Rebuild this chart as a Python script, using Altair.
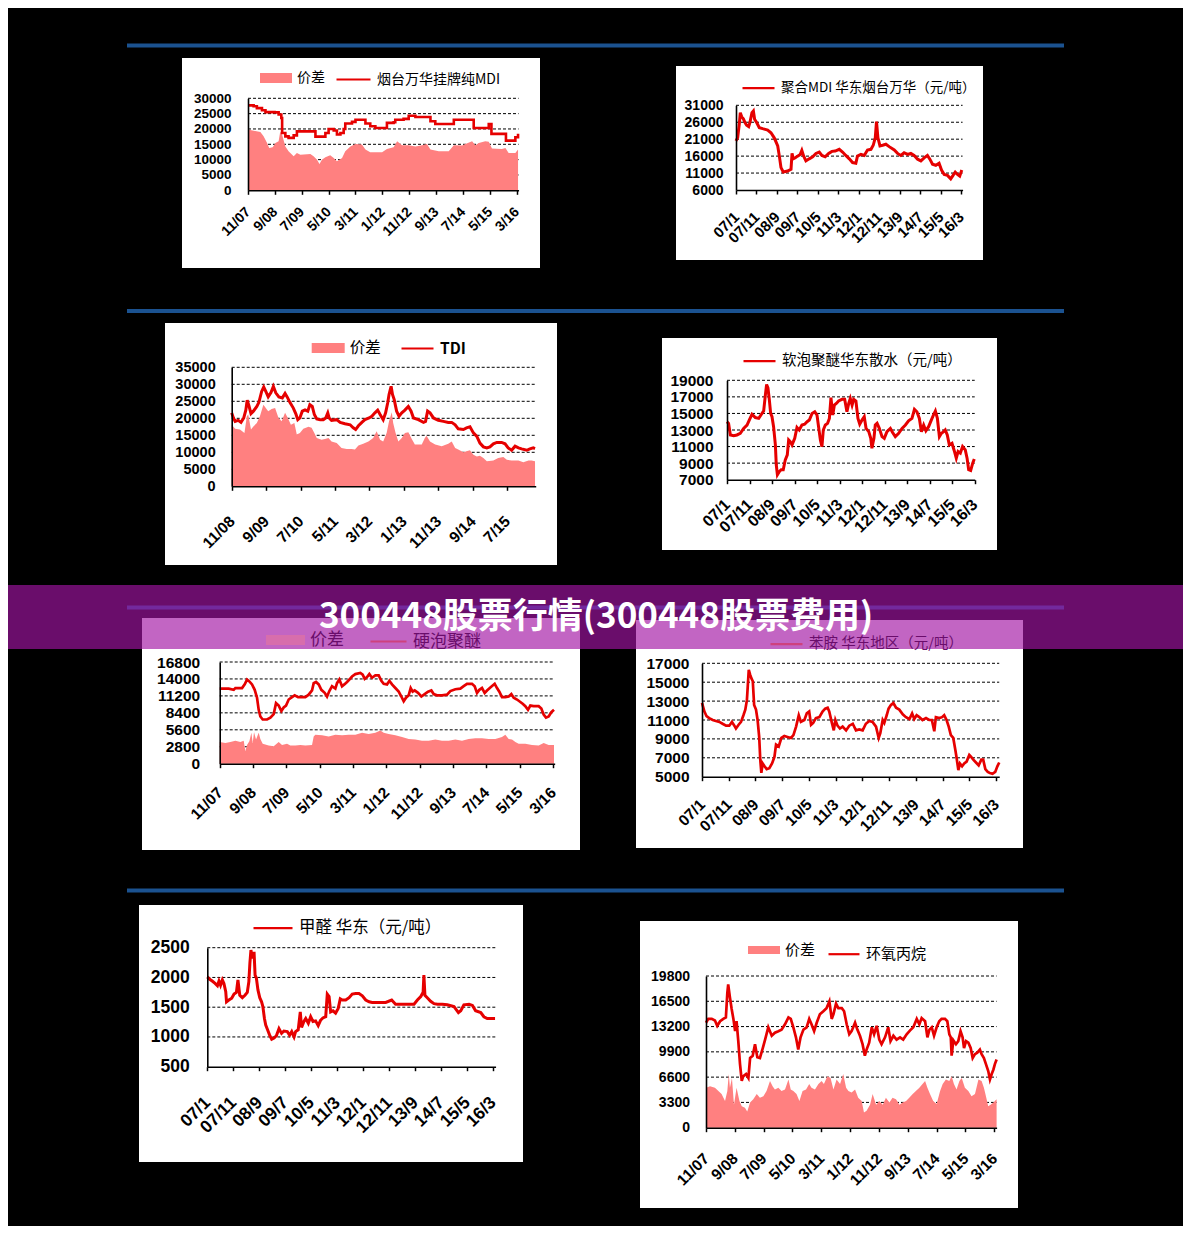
import json
import altair as alt
import pandas as pd

# ---------------- canvas ----------------
W, H = 1175, 1218      # chart size (page is 1191x1234 with 8px margin)
M = 8                  # reference pixel -> chart pixel shift

BLUE = "#1b5290"
AREA_C = "#ff8080"
LINE_C = "#e60000"
BANNER_C = "#a214a3"
NUM_FONT = "Liberation Sans"
CJK_FONT = "Noto Sans CJK SC"

TITLE = "300448股票行情(300448股票费用)"
SPREAD = "价差"

# ---------------- data ----------------
LAB_07_11 = ["11/07", "9/08", "7/09", "5/10", "3/11", "1/12", "11/12", "9/13", "7/14", "5/15", "3/16"]
LAB_07_1 = ["07/1", "07/11", "08/9", "09/7", "10/5", "11/3", "12/1", "12/11", "13/9", "14/7", "15/5", "16/3"]
LAB_08_11 = ["11/08", "9/09", "7/10", "5/11", "3/12", "1/13", "11/13", "9/14", "7/15"]

# Panel A: 烟台万华挂牌纯MDI  (x = months since first label)
A_NAME = "烟台万华挂牌纯MDI"
A_Y = [0, 5000, 10000, 15000, 20000, 25000, 30000]
A_LINE_M = [0, 2.1, 3.3, 5.2, 6.5, 9.9, 11.4, 12.4, 12.7, 13.9, 15.1, 17.0, 18.2, 24.4, 25.1, 27.5, 28.8, 30.0, 31.9, 33.1,
            34.4, 35.6, 36.2, 38.7, 40.0, 42.4, 43.7, 45.5, 47.4, 51.1, 51.7, 54.2, 54.8, 57.9, 59.8, 62.3, 66.6, 67.9, 69.7, 74.7,
            76.6, 83.4, 84.0, 87.1, 89.6, 90.6, 95.2, 96.0, 98.9, 99.5, 100.5]
A_LINE_V = [27700, 27400, 26800, 26100, 25500, 25400, 24700, 23600, 18700, 17600, 17100, 17900, 19200, 19200, 17500, 17500, 18700, 20000, 19500, 18200,
            18700, 20000, 21800, 22300, 23000, 23000, 21800, 20900, 20300, 20300, 22000, 22200, 23000, 23300, 24300, 23900, 23900, 22500, 21600, 21600,
            23000, 23000, 20300, 20300, 21600, 18400, 18400, 16200, 16200, 17300, 18400]
A_AREA_M = [0, 4.6, 5.8, 7.1, 7.9, 9.2, 10.2, 11.4, 12.0, 12.7, 13.9, 15.1, 17.0, 18.2, 19.5, 23.2, 24.4, 25.7, 26.6, 27.5,
            28.8, 30.6, 31.9, 33.1, 35.0, 36.2, 38.1, 40.0, 42.4, 43.7, 45.5, 49.9, 51.7, 54.2, 55.5, 57.3, 59.8, 62.3, 64.8, 66.6,
            67.9, 71.0, 74.7, 76.6, 79.7, 80.9, 83.4, 84.6, 85.9, 88.3, 89.6, 90.8, 94.5, 95.8, 97.0, 99.5, 100.5]
A_AREA_V = [19800, 19000, 17600, 15400, 13800, 14000, 15400, 16000, 19200, 18100, 14300, 12700, 11100, 12200, 11600, 11800, 11100, 10000, 8600, 10000,
            10800, 11400, 10500, 9500, 10500, 12700, 14300, 15100, 14900, 13300, 12400, 12400, 13500, 14000, 16000, 14700, 14700, 14300, 14700, 15100,
            13300, 12700, 12700, 14700, 14600, 15100, 16000, 14700, 15400, 16000, 15800, 13600, 13500, 13800, 12200, 12200, 13300]

# Panel B: 聚合MDI 华东烟台万华
B_NAME = "聚合MDI 华东烟台万华（元/吨）"
B_Y = [6000, 11000, 16000, 21000, 26000, 31000]
B_LINE_M = [0, 0.8, 1.6, 2.1, 2.8, 3.6, 4.4, 5.2, 6.2, 6.8, 7.8, 8.5, 9.1, 10.1, 11.4, 13.0, 15.5, 17.1, 18.7, 20.4,
            21.2, 22.0, 23.1, 25.2, 26.9, 27.4, 28.0, 29.0, 30.1, 31.4, 32.2, 33.1, 34.2, 35.8, 37.5, 39.1, 40.7, 42.0, 43.6, 45.3,
            46.9, 48.5, 50.5, 52.1, 53.7, 55.4, 57.0, 58.6, 59.4, 61.1, 62.7, 64.3, 66.0, 67.1, 68.1, 68.7, 69.4, 70.4, 71.7, 73.3,
            74.9, 77.4, 79.0, 80.6, 82.2, 83.9, 85.5, 87.1, 88.8, 90.4, 92.0, 93.6, 94.8, 96.1, 97.7, 99.3, 100.5, 101.8, 103.4, 105.0,
            105.9, 107.2, 108.3, 109.4, 110.4]
B_LINE_V = [20500, 21400, 25400, 28800, 27600, 27000, 25900, 25100, 24700, 25900, 28800, 29300, 26900, 25900, 24400, 24100, 23700, 22900, 21400, 19000,
            16000, 12600, 11300, 11600, 12100, 16800, 15200, 15500, 16000, 16500, 17700, 16000, 14600, 15200, 15800, 16800, 17200, 16200, 15800, 16800,
            17400, 17500, 18000, 17200, 16200, 15200, 14100, 13900, 16000, 16500, 16200, 17800, 18000, 19200, 21400, 26200, 21400, 19000, 19200, 19500,
            18800, 17800, 16800, 16200, 17000, 16500, 16800, 16200, 15100, 14600, 15500, 16200, 15100, 13600, 13300, 13900, 11900, 10600, 10300, 9300,
            10100, 11300, 10600, 10100, 11900]

# Panel C: TDI
C_NAME = "TDI"
C_Y = [0, 5000, 10000, 15000, 20000, 25000, 30000, 35000]
C_LINE_M = [0, 0.5, 1.0, 1.9, 2.7, 3.5, 4.1, 4.5, 5.0, 5.6, 6.3, 7.3, 7.9, 8.7, 9.3, 9.9, 10.6, 11.4, 12.1, 12.8,
            13.7, 14.7, 15.5, 16.1, 16.9, 17.9, 18.6, 19.2, 19.8, 20.5, 21.3, 22.1, 22.7, 23.4, 24.0, 24.7, 25.7, 26.6, 27.3, 27.9,
            28.3, 29.0, 30.5, 31.5, 32.9, 34.4, 35.3, 36.0, 36.8, 37.8, 38.7, 39.9, 40.7, 41.6, 42.4, 43.1, 44.0, 44.7, 45.3, 45.7,
            46.3, 46.7, 47.2, 47.9, 48.6, 49.4, 50.3, 51.3, 52.1, 52.8, 54.2, 55.7, 56.3, 56.9, 57.6, 58.6, 60.0, 61.5, 62.9, 63.9,
            64.9, 65.8, 67.3, 68.2, 69.2, 70.2, 71.2, 72.1, 73.1, 74.1, 75.0, 76.0, 77.0, 78.4, 79.4, 80.3, 81.3, 82.3, 83.3, 84.2,
            85.7, 86.6, 87.6, 88.1]
C_LINE_V = [21600, 20100, 19100, 19400, 18800, 20100, 22400, 25300, 23700, 21400, 22100, 23500, 24700, 27900, 29200, 27900, 26300, 27600, 29400, 27500,
            26300, 26000, 27300, 26300, 24700, 23000, 21400, 19600, 20100, 22100, 22500, 22100, 24000, 23500, 21100, 19800, 19600, 19600, 20100, 21600,
            20100, 19400, 19600, 18800, 18400, 18100, 17200, 16700, 17800, 18800, 19600, 20100, 20600, 21600, 22400, 21100, 19600, 21600, 24500, 27000,
            29400, 27000, 25500, 22100, 20600, 21600, 22400, 23500, 22100, 20100, 19600, 18800, 19100, 22100, 21600, 20100, 19400, 19100, 18800, 18800,
            18100, 16900, 16700, 17200, 17500, 15700, 14700, 12700, 11600, 11300, 11600, 12500, 12900, 12900, 12500, 11300, 10600, 11800, 11300, 11000,
            10600, 11000, 11300, 11100]
C_AREA_M = [0, 1.0, 2.4, 3.7, 4.4, 4.8, 5.6, 6.3, 7.3, 8.2, 9.2, 9.9, 10.6, 11.6, 12.6, 13.6, 14.5, 15.5, 16.3, 17.2,
            18.2, 18.9, 19.8, 20.8, 22.3, 23.2, 24.0, 24.7, 26.1, 27.1, 28.1, 29.0, 30.5, 31.9, 33.4, 34.8, 35.8, 36.8, 38.2, 39.7,
            41.1, 42.1, 43.1, 44.0, 45.0, 45.7, 46.5, 46.9, 47.6, 48.4, 49.4, 50.3, 51.3, 52.3, 53.2, 55.2, 56.1, 56.6, 57.6, 59.1,
            61.0, 62.9, 63.9, 64.9, 65.8, 67.3, 68.2, 69.2, 70.2, 71.2, 72.1, 73.1, 74.1, 76.0, 77.4, 78.9, 79.9, 81.3, 83.3, 84.7,
            86.2, 87.1, 88.1]
C_AREA_V = [18100, 16900, 16700, 15700, 20600, 21100, 16700, 17600, 18600, 20600, 24000, 23000, 22100, 22700, 23000, 20100, 19100, 21600, 20100, 18100,
            18600, 15200, 15700, 16900, 17500, 17200, 15700, 14200, 13700, 13900, 14200, 13200, 12700, 11300, 11000, 11000, 10800, 12000, 12500, 13200,
            14200, 16200, 13700, 13200, 15700, 19100, 21800, 18600, 15700, 13200, 14200, 15700, 15900, 13900, 12300, 12300, 14200, 14900, 13200, 12300,
            11800, 12500, 13200, 11300, 10800, 10000, 10300, 10600, 9300, 8800, 9000, 8300, 7400, 7600, 8300, 8600, 7800, 7600, 7600, 7100,
            7600, 7600, 7400]

# Panel D: 软泡聚醚华东散水
D_NAME = "软泡聚醚华东散水（元/吨）"
D_Y = [7000, 9000, 11000, 13000, 15000, 17000, 19000]
D_LINE_M = [0, 0.7, 1.5, 3.0, 4.4, 5.9, 7.4, 8.9, 9.9, 11.1, 12.6, 14.1, 15.3, 16.3, 17.0, 17.6, 18.2, 18.8, 19.4, 20.0,
            20.7, 21.5, 21.9, 22.4, 23.3, 24.1, 25.0, 25.9, 26.8, 27.4, 28.1, 28.9, 30.1, 31.1, 32.1, 33.3, 34.5, 35.6, 36.6, 37.8,
            39.0, 40.0, 40.7, 41.5, 42.2, 42.8, 43.7, 44.7, 45.5, 46.2, 47.0, 47.7, 48.6, 49.6, 51.1, 52.3, 53.3, 54.1, 54.8, 55.6,
            56.3, 57.3, 58.2, 59.0, 60.0, 61.0, 61.8, 63.0, 63.9, 64.4, 65.3, 65.9, 66.7, 67.7, 68.9, 69.9, 71.1, 72.6, 73.6, 74.8,
            76.3, 77.8, 79.3, 80.7, 82.2, 83.3, 84.4, 85.5, 86.4, 87.4, 88.4, 89.6, 90.8, 91.9, 92.6, 93.5, 94.4, 95.3, 96.3, 97.0,
            97.9, 98.8, 100.0, 101.0, 101.9, 102.7, 103.7, 104.7, 105.9, 106.7, 107.4, 108.3, 109.2, 109.9]
D_LINE_V = [14000, 13800, 12400, 12300, 12400, 12600, 13200, 13600, 14200, 14900, 14500, 14400, 14900, 15300, 17100, 18500, 18100, 16700, 15000, 14600,
            13400, 11200, 8800, 7600, 8000, 8200, 8200, 9400, 10000, 11800, 11600, 11200, 12000, 13300, 13000, 13600, 13700, 14000, 14200, 15000,
            15200, 14800, 13400, 11800, 11000, 13000, 13600, 13800, 14400, 16900, 14800, 16000, 16200, 16500, 16700, 16700, 15200, 16200, 16800, 16000,
            16700, 16500, 14400, 13700, 14200, 14600, 13200, 12800, 12000, 10800, 12000, 13600, 13800, 13200, 12200, 12000, 12800, 13200, 12700, 12200,
            12600, 13200, 13600, 14100, 14400, 15500, 15200, 14400, 12800, 13600, 12900, 13400, 14200, 14900, 15300, 14400, 12200, 12600, 12800, 13000,
            12400, 11200, 11400, 10500, 9600, 10400, 10200, 11000, 10600, 9600, 8200, 8100, 9000, 9500]

# Panel E: 硬泡聚醚
E_NAME = "硬泡聚醚"
E_Y = [0, 2800, 5600, 8400, 11200, 14000, 16800]
E_LINE_M = [0, 2.7, 4.2, 4.7, 6.7, 7.5, 8.2, 8.9, 9.7, 10.5, 11.2, 11.7, 12.2, 12.9, 14.2, 15.2, 16.2, 16.9, 17.7, 18.5,
            19.2, 19.9, 20.7, 21.7, 22.5, 23.5, 24.5, 25.7, 26.7, 27.7, 28.2, 28.9, 29.7, 30.5, 31.5, 32.2, 32.9, 33.7, 34.7, 35.2,
            35.9, 36.7, 37.4, 38.2, 38.9, 39.7, 40.7, 42.2, 42.9, 43.5, 44.2, 44.9, 45.7, 46.7, 47.7, 48.5, 49.2, 50.2, 50.9, 51.7,
            52.7, 53.7, 54.5, 55.2, 55.9, 56.7, 57.3, 57.9, 58.5, 59.5, 60.5, 61.5, 62.5, 63.5, 64.2, 65.2, 66.7, 68.2, 69.2, 70.7,
            72.2, 73.2, 74.2, 75.7, 76.5, 77.2, 77.9, 78.7, 79.5, 80.2, 81.2, 82.5, 83.2, 83.9, 84.7, 85.7, 86.7, 87.5, 88.2, 89.2,
            90.2, 90.9, 91.7, 92.5, 93.2, 94.2, 95.7, 96.5, 97.2, 97.9, 98.7, 99.5, 100.3]
E_LINE_V = [12400, 12400, 12200, 12500, 12500, 13100, 13900, 13600, 13100, 12200, 10900, 8900, 7800, 7300, 7300, 7600, 8200, 10000, 9600, 8700,
            9300, 9600, 10600, 11000, 11300, 11000, 11000, 11000, 11400, 12100, 13300, 13500, 13100, 12200, 11700, 11100, 12000, 12800, 12400, 13300,
            13900, 12800, 13100, 13500, 13900, 14400, 14800, 15000, 14700, 14000, 14300, 14800, 14200, 14600, 14600, 13700, 13200, 13100, 13700, 13100,
            12500, 11900, 11100, 10300, 10900, 11300, 12500, 11900, 12100, 11700, 11100, 11500, 11900, 12100, 11500, 11300, 11300, 11400, 12000, 12300,
            12400, 12800, 13200, 13200, 12800, 11700, 12200, 12500, 11700, 12100, 12600, 13200, 12500, 11900, 11000, 11000, 11100, 11500, 10900, 10600,
            10200, 9900, 9500, 8900, 9600, 9500, 9500, 9100, 8100, 7600, 7800, 8500, 8900]
E_AREA_M = [0, 1.7, 3.2, 4.7, 6.2, 7.2, 7.7, 8.2, 8.9, 9.5, 9.9, 10.3, 10.9, 11.7, 12.2, 12.9, 14.7, 16.2, 17.7, 18.7,
            20.2, 21.2, 22.7, 24.2, 25.7, 27.7, 28.2, 28.7, 30.7, 32.7, 34.7, 36.7, 38.7, 40.7, 42.7, 44.7, 46.7, 48.2, 49.2, 50.7,
            52.7, 54.7, 56.7, 58.7, 60.7, 62.7, 64.7, 66.7, 68.7, 70.7, 72.7, 74.7, 76.7, 78.7, 80.7, 82.7, 84.7, 85.7, 86.7, 87.7,
            88.7, 89.7, 91.7, 93.7, 95.7, 97.2, 98.7, 100.3]
E_AREA_V = [3600, 3400, 3600, 3800, 3600, 3800, 2100, 3100, 3700, 5100, 3400, 5200, 4000, 5100, 4100, 3300, 3000, 2900, 3600, 3100,
            3300, 3000, 3000, 3100, 3000, 3100, 4500, 4800, 4700, 4500, 4800, 4700, 4800, 4800, 5100, 4900, 5100, 5500, 5100, 4900,
            4700, 4400, 4100, 4000, 3800, 3800, 4000, 3800, 3800, 4000, 3800, 4100, 4200, 4200, 4100, 4100, 4400, 4800, 4100, 4000,
            3600, 3300, 3300, 3100, 3000, 3400, 3100, 3100]

# Panel F: 苯胺 华东地区
F_NAME = "苯胺 华东地区（元/吨）"
F_Y = [5000, 7000, 9000, 11000, 13000, 15000, 17000]
F_LINE_M = [0, 0.9, 1.7, 2.7, 4.0, 5.2, 6.5, 7.7, 9.0, 10.2, 11.2, 12.1, 12.7, 13.7, 14.6, 15.5, 16.2, 16.8, 17.5, 18.0,
            18.5, 19.0, 19.5, 20.2, 20.8, 21.4, 21.8, 22.2, 22.7, 23.4, 24.2, 25.2, 26.2, 27.1, 27.7, 28.7, 29.7, 30.8, 32.0, 33.3,
            34.2, 35.2, 36.2, 37.0, 38.3, 39.2, 40.1, 40.8, 41.6, 42.6, 43.9, 45.1, 46.1, 47.0, 47.6, 48.5, 49.3, 49.9, 50.7, 51.6,
            52.6, 53.9, 55.1, 56.4, 57.6, 58.8, 60.1, 61.3, 62.6, 63.8, 65.1, 66.1, 66.7, 67.6, 68.2, 69.1, 69.8, 70.7, 71.6, 72.6,
            73.8, 75.1, 76.3, 77.6, 78.6, 79.4, 80.3, 81.3, 82.5, 83.8, 85.0, 86.0, 86.9, 87.5, 88.8, 89.8, 90.6, 91.5, 92.3, 93.1,
            94.0, 94.8, 95.3, 95.9, 96.5, 97.3, 98.1, 99.0, 100.0, 100.7, 101.5, 102.5, 103.5, 104.5, 105.2, 106.0, 106.9, 107.7, 108.7, 109.7,
            110.5, 111.2]
F_LINE_V = [12800, 11900, 11400, 11200, 11000, 10900, 10800, 10600, 10400, 10400, 10800, 10400, 10100, 10500, 10800, 11500, 12100, 13100, 16300, 15800,
            15400, 15100, 12600, 12100, 11000, 9200, 6800, 5400, 6400, 6100, 5800, 5900, 6400, 7100, 8400, 8200, 9100, 9300, 9200, 9100,
            9400, 10300, 11500, 10800, 11000, 11700, 11900, 10500, 10700, 11200, 11300, 11900, 12200, 12300, 11900, 10800, 9900, 11000, 10400, 10100,
            10300, 9900, 10400, 10600, 9900, 10000, 9900, 10600, 10900, 10800, 10300, 9100, 9600, 11000, 10700, 11500, 12200, 12600, 12800, 12300,
            12100, 11600, 11300, 11100, 11700, 11100, 11500, 11300, 11000, 11200, 11000, 11000, 9800, 11300, 11200, 11300, 11500, 11000, 10300, 9400,
            9100, 7800, 6900, 5700, 6400, 6100, 6400, 6600, 7300, 7100, 6800, 6500, 6200, 6800, 6800, 5800, 5500, 5400, 5300, 5500,
            6100, 6500]

# Panel G: 甲醛 华东
G_NAME = "甲醛 华东（元/吨）"
G_Y = [500, 1000, 1500, 2000, 2500]
G_LINE_M = [0, 0.9, 1.9, 3.0, 3.9, 4.5, 5.1, 5.8, 6.4, 7.1, 7.4, 8.3, 9.4, 10.3, 11.2, 11.8, 12.5, 13.5, 14.5, 15.4,
            16.0, 16.4, 16.8, 17.3, 18.0, 18.4, 18.9, 19.5, 20.2, 20.9, 21.4, 22.0, 22.5, 23.2, 24.0, 24.8, 25.7, 26.6, 27.6, 28.6,
            29.5, 30.8, 31.7, 32.5, 33.4, 34.0, 35.0, 35.8, 36.3, 37.2, 37.9, 38.9, 39.8, 40.7, 41.7, 42.7, 43.6, 44.5, 45.6, 46.2,
            46.9, 47.5, 48.4, 49.4, 50.4, 51.2, 52.0, 53.3, 54.6, 55.8, 57.1, 58.4, 59.7, 61.0, 62.3, 63.5, 66.1, 68.7, 71.0, 72.5,
            75.1, 77.7, 79.6, 80.9, 82.2, 83.1, 83.4, 83.8, 84.7, 86.0, 87.3, 88.6, 90.5, 92.4, 95.0, 96.7, 97.6, 98.8, 100.8, 102.1,
            103.3, 105.3, 106.5, 107.8, 109.8, 110.8]
G_LINE_V = [2010, 1970, 1940, 1900, 1860, 1940, 1870, 1960, 1900, 1760, 1590, 1620, 1650, 1720, 1750, 1960, 1700, 1660, 1700, 1750,
            1930, 2240, 2460, 2320, 2430, 2040, 1990, 1790, 1660, 1590, 1510, 1310, 1200, 1120, 1030, 960, 980, 1020, 1140, 1060,
            1100, 1090, 1030, 1090, 1000, 1090, 1120, 1420, 1160, 1260, 1310, 1230, 1340, 1260, 1270, 1190, 1280, 1320, 1340, 1720,
            1680, 1420, 1440, 1400, 1480, 1640, 1620, 1620, 1660, 1720, 1730, 1730, 1690, 1620, 1590, 1580, 1580, 1580, 1620, 1550,
            1550, 1550, 1550, 1620, 1680, 1750, 2040, 1700, 1660, 1600, 1560, 1550, 1550, 1540, 1510, 1410, 1440, 1540, 1550, 1530,
            1440, 1410, 1340, 1310, 1310, 1310]

# Panel H: 环氧丙烷
H_NAME = "环氧丙烷"
H_Y = [0, 3300, 6600, 9900, 13200, 16500, 19800]
H_LINE_M = [0, 0.8, 2.0, 3.1, 3.9, 4.9, 6.0, 6.9, 7.4, 7.7, 8.3, 8.9, 9.5, 10.1, 10.6, 11.2, 11.8, 12.4, 12.9, 13.9,
            14.7, 15.3, 16.2, 17.0, 17.8, 18.7, 19.7, 20.5, 21.6, 22.8, 23.9, 25.1, 26.2, 27.4, 28.6, 29.4, 30.3, 31.2, 32.0, 32.8,
            33.8, 34.9, 35.8, 36.6, 37.5, 38.4, 39.5, 40.7, 41.8, 42.8, 43.6, 44.2, 45.1, 45.9, 47.1, 47.9, 48.8, 49.7, 50.5, 51.7,
            52.5, 53.4, 54.3, 55.1, 55.7, 56.6, 57.5, 58.3, 59.2, 60.1, 60.9, 62.1, 63.2, 64.0, 65.0, 66.1, 67.3, 68.4, 69.6, 70.8,
            71.9, 73.1, 74.0, 74.8, 76.0, 76.8, 77.5, 78.3, 79.1, 80.0, 80.9, 81.7, 82.9, 83.7, 84.4, 84.9, 85.2, 85.8, 86.7, 87.5,
            88.3, 89.0, 89.5, 90.2, 91.0, 91.8, 92.5, 93.3, 94.1, 95.0, 95.6, 96.4, 97.1, 97.9, 98.5, 99.1, 99.7, 100.2, 100.8]
H_LINE_V = [13700, 14200, 14200, 14000, 13300, 13900, 14200, 14400, 17600, 18700, 17000, 15500, 14200, 12600, 13900, 11300, 8300, 6100, 6700, 7000,
            6500, 9100, 9400, 10900, 9200, 9100, 10400, 11500, 13100, 12000, 12400, 12600, 12800, 13500, 14400, 14200, 13100, 11800, 10200, 11800,
            12800, 13100, 14200, 13500, 12600, 13700, 14800, 15200, 15600, 16500, 14200, 14800, 16200, 15600, 15600, 15200, 13500, 12200, 12600, 13700,
            12800, 12000, 10900, 9400, 10200, 11100, 13100, 12200, 13300, 11500, 10900, 11800, 13100, 11300, 12000, 11500, 11800, 11500, 12200, 12700,
            13100, 14200, 13500, 14300, 13900, 11800, 12800, 13100, 12000, 13100, 13900, 14200, 14200, 13900, 12200, 11800, 9400, 11400, 10900, 11300,
            12600, 11800, 10400, 11300, 11100, 10400, 9100, 9600, 9800, 10200, 9600, 9100, 8300, 7400, 6300, 7000, 7600, 8300, 8900]
H_AREA_M = [0, 1.4, 3.1, 4.3, 5.4, 6.6, 7.4, 7.9, 8.3, 9.0, 9.7, 10.6, 11.6, 12.4, 13.5, 14.3, 15.3, 16.4, 17.6, 18.7,
            19.9, 21.0, 22.2, 23.1, 23.9, 25.1, 26.2, 27.4, 28.6, 29.4, 30.3, 31.4, 32.4, 33.5, 34.7, 35.8, 36.6, 37.8, 39.0, 40.1,
            40.9, 42.1, 43.2, 44.2, 45.3, 46.5, 47.6, 48.6, 49.4, 50.5, 51.7, 52.8, 54.0, 54.8, 55.7, 56.9, 57.8, 59.0, 60.1, 61.3,
            62.4, 63.6, 64.7, 65.9, 67.1, 68.2, 69.4, 70.5, 71.7, 72.8, 74.0, 75.1, 76.0, 76.8, 77.7, 78.8, 80.0, 81.2, 82.1, 83.2,
            84.4, 85.2, 86.0, 86.9, 87.9, 88.7, 89.8, 91.0, 92.1, 93.3, 94.5, 95.6, 96.4, 97.1, 97.9, 98.7, 99.7, 100.8]
H_AREA_V = [5200, 5400, 5200, 4800, 4400, 3500, 4800, 7000, 5200, 6500, 3000, 5200, 3500, 2800, 2600, 2100, 3300, 3700, 4400, 3900,
            4100, 4800, 6100, 5400, 5000, 5200, 4800, 5000, 6300, 5000, 4800, 4400, 3500, 4800, 5000, 5700, 5200, 5000, 5700, 6100,
            5700, 6700, 6500, 5000, 6300, 5700, 7000, 5200, 4800, 4600, 5000, 3900, 3500, 2000, 2200, 3000, 4400, 3000, 3500, 3000,
            3900, 3300, 3900, 3700, 3000, 3300, 3500, 3900, 4400, 4800, 5200, 5700, 6100, 5200, 4400, 3500, 3100, 4800, 5700, 6300,
            6100, 6700, 5700, 5000, 6100, 6500, 5200, 4800, 4100, 4400, 6300, 6100, 5200, 4100, 2800, 3000, 3300, 3700]

DATA = [
    dict(yticks=A_Y, xlabels=LAB_07_11, line=(A_NAME, A_LINE_M, A_LINE_V), area=(A_AREA_M, A_AREA_V), interp="step-after"),
    dict(yticks=B_Y, xlabels=LAB_07_1, line=(B_NAME, B_LINE_M, B_LINE_V)),
    dict(yticks=C_Y, xlabels=LAB_08_11, line=(C_NAME, C_LINE_M, C_LINE_V), area=(C_AREA_M, C_AREA_V)),
    dict(yticks=D_Y, xlabels=LAB_07_1, line=(D_NAME, D_LINE_M, D_LINE_V)),
    dict(yticks=E_Y, xlabels=LAB_07_11, line=(E_NAME, E_LINE_M, E_LINE_V), area=(E_AREA_M, E_AREA_V)),
    dict(yticks=F_Y, xlabels=LAB_07_1, line=(F_NAME, F_LINE_M, F_LINE_V)),
    dict(yticks=G_Y, xlabels=LAB_07_1, line=(G_NAME, G_LINE_M, G_LINE_V)),
    dict(yticks=H_Y, xlabels=LAB_07_11, line=(H_NAME, H_LINE_M, H_LINE_V), area=(H_AREA_M, H_AREA_V)),
]

# ---------------- layout / styles (reference pixel coordinates) ----------------
STYLE = [
    dict(box=(182, 58, 540, 268), x0=248, ppm=2.687, mmax=100.7, yb=190.3, yt=98.3, yfs=13.5, xfs=14, ypad=17, xpad=15,
         lw=2.6, lfs=14, leg_area=(260, 78, 32, 10), leg_line=(335, 78, 34)),
    dict(box=(676, 66, 983, 260), x0=736, ppm=2.045, mmax=110.8, yb=190, yt=105.3, yfs=14, xfs=15, ypad=13, xpad=20,
         lw=3.0, lfs=13.5, leg_line=(741, 86.7, 32)),
    dict(box=(165, 323, 557, 565), x0=231.7, ppm=3.443, mmax=88.3, yb=486.3, yt=367.3, yfs=14.5, xfs=15.5, ypad=16.5, xpad=28,
         lw=3.0, lfs=15.5, leg_area=(311.7, 348, 33, 10), leg_line=(400, 347, 32), line_bold=True),
    dict(box=(662, 338, 997, 550), x0=727, ppm=2.25, mmax=110.1, yb=479.7, yt=380.3, yfs=15.5, xfs=16, ypad=14, xpad=18,
         lw=3.0, lfs=14.5, leg_line=(742, 359.7, 32)),
    dict(box=(142, 618, 580, 850), x0=219.7, ppm=3.333, mmax=100.5, yb=763.7, yt=662, yfs=15.5, xfs=15.5, ypad=20, xpad=22,
         lw=2.7, lfs=17, leg_area=(266, 640, 39, 10), leg_line=(369, 640, 36), tint=True),
    dict(box=(636, 620, 1023, 848), x0=702, ppm=2.673, mmax=111.2, yb=776.7, yt=663.3, yfs=15.5, xfs=15.5, ypad=13, xpad=21,
         lw=2.7, lfs=14.5, leg_line=(769, 642.7, 32), tint=True),
    dict(box=(139, 905, 523, 1162), x0=207.3, ppm=2.597, mmax=111, yb=1066.7, yt=947.7, yfs=17.5, xfs=17.5, ypad=18, xpad=29,
         lw=3.0, lfs=16.5, leg_line=(252, 926.7, 39)),
    dict(box=(640, 921, 1018, 1208), x0=706, ppm=2.883, mmax=100.8, yb=1127.7, yt=976, yfs=14, xfs=15.5, ypad=16.5, xpad=24,
         lw=2.7, lfs=15, leg_area=(748, 950, 32, 8), leg_line=(827, 952.7, 31)),
]
BLUE_LINES = [45.5, 311, 607.5, 890.5]
BANNER = (585, 649)

ONE = alt.Data(values=[{"k": 0}])


def deco_rect(x1, y1, x2, y2, color, opacity=1.0):
    return alt.Chart(ONE).mark_rect(color=color, opacity=opacity).encode(
        x=alt.value(x1 - M), x2=alt.value(x2 - M), y=alt.value(y1 - M), y2=alt.value(y2 - M))


def legend(spec, s, kind, bold=False):
    lx, cy, w = spec[0], spec[1], spec[2]
    tint = s.get("tint", False)
    common = dict(orient="none", legendX=lx - M, legendY=cy - w / 2 - M, title=None, padding=0,
                  labelFont=CJK_FONT, labelFontSize=s["lfs"], labelFontWeight="bold" if bold else "normal",
                  labelColor="#6a0d6b" if tint else "black", labelOffset=5, labelLimit=600,
                  symbolSize=w * w, symbolOpacity=0.35 if tint else 1)
    if kind == "area":
        hh = spec[3] / w
        return alt.Legend(symbolType=f"M-1,-{hh:.3f}H1V{hh:.3f}H-1Z", symbolStrokeWidth=0, **common)
    return alt.Legend(symbolType="stroke", symbolStrokeWidth=2.2, **common)


def panel(d, s):
    x1 = s["x0"] + s["ppm"] * s["mmax"]
    xs = alt.Scale(domain=[0, s["mmax"]], range=[s["x0"] - M, x1 - M], nice=False, zero=False)
    ys = alt.Scale(domain=[d["yticks"][0], d["yticks"][-1]], range=[s["yb"] - M, s["yt"] - M], nice=False, zero=False)
    xticks = [10 * i for i in range(len(d["xlabels"]))]
    label_expr = json.dumps(d["xlabels"]) + "[round(datum.value / 10)]"
    x_axis = alt.Axis(orient="bottom", offset=(s["yb"] - M) - H, values=xticks, labelExpr=label_expr,
                      labelAngle=-45, labelAlign="right", labelBaseline="middle",
                      labelFont=NUM_FONT, labelFontSize=s["xfs"], labelFontWeight="bold", labelColor="black",
                      labelPadding=s["xpad"], labelOverlap=False, labelFlush=False, labelBound=False,
                      tickSize=4, tickWidth=1.5, tickColor="black", domainColor="black", domainWidth=1.6,
                      grid=False, title=None, zindex=1)
    y_axis = alt.Axis(orient="left", offset=-(s["x0"] - M), values=d["yticks"], format="d", ticks=False,
                      labelFont=NUM_FONT, labelFontSize=s["yfs"], labelFontWeight="bold", labelColor="black",
                      labelPadding=s["ypad"], labelOverlap=False, labelFlush=False, labelBound=False,
                      domainColor="black", domainWidth=1.6, grid=False, title=None, zindex=1)
    grid = pd.DataFrame({"v": d["yticks"][1:], "a": 0.0, "b": s["mmax"]})
    layers = [alt.Chart(grid).mark_rule(color="black", strokeDash=[3, 2], strokeWidth=1).encode(
        x=alt.X("a:Q", scale=xs, axis=x_axis), x2="b:Q", y=alt.Y("v:Q", scale=ys, axis=y_axis))]
    if "area" in d:
        am, av = d["area"]
        adf = pd.DataFrame({"m": am, "v": av, "s": SPREAD})
        layers.append(alt.Chart(adf).mark_area(opacity=1, interpolate="linear").encode(
            x=alt.X("m:Q", scale=xs, axis=None),
            y=alt.Y("v:Q", scale=ys, axis=None, stack=None),
            y2=alt.datum(0),
            color=alt.Color("s:N", scale=alt.Scale(domain=[SPREAD], range=[AREA_C]),
                            legend=legend(s["leg_area"], s, "area"))))
    name, lm, lv = d["line"]
    ldf = pd.DataFrame({"m": lm, "v": lv, "s": name})
    layers.append(alt.Chart(ldf).mark_line(strokeWidth=s["lw"], interpolate=d.get("interp", "linear")).encode(
        x=alt.X("m:Q", scale=xs, axis=None),
        y=alt.Y("v:Q", scale=ys, axis=None),
        color=alt.Color("s:N", scale=alt.Scale(domain=[name], range=[LINE_C]),
                        legend=legend(s["leg_line"], s, "line", bold=s.get("line_bold", False)))))
    return layers


layers = []
for s in STYLE:
    bx = s["box"]
    layers.append(deco_rect(bx[0], bx[1], bx[2], bx[3], "white"))
for cy in BLUE_LINES:
    layers.append(deco_rect(127, cy - 2, 1064, cy + 2, BLUE))
for d, s in zip(DATA, STYLE):
    layers.extend(panel(d, s))
layers.append(deco_rect(M, BANNER[0], W + M, BANNER[1], BANNER_C, opacity=0.655))
layers.append(alt.Chart(ONE).mark_text(text=TITLE, font=CJK_FONT, fontSize=35, fontWeight="bold", color="white",
                                       align="center", baseline="middle").encode(
    x=alt.value(596 - M), y=alt.value(617 - M)))

chart = alt.layer(*layers).resolve_scale(
    x="independent", y="independent", color="independent"
).properties(
    width=W, height=H, background="black", padding=0,
    autosize=alt.AutoSizeParams(type="none"),
).configure_view(stroke=None)

chart.save("out.html", embed_options={"renderer": "svg", "actions": False})
